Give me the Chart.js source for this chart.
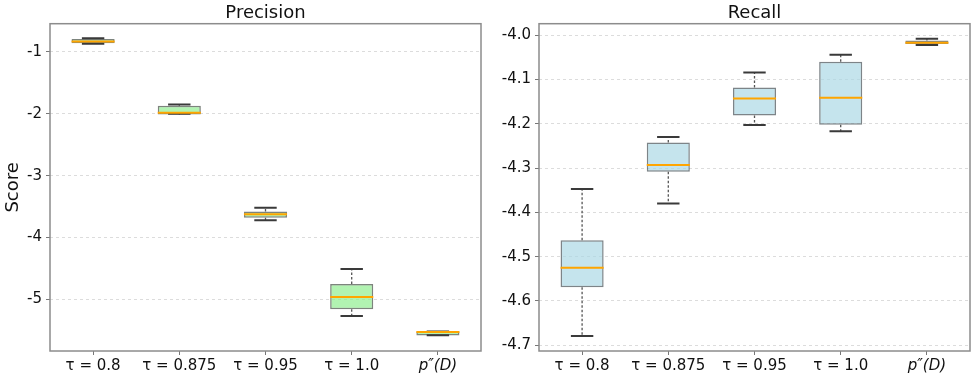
<!DOCTYPE html>
<html>
<head>
<meta charset="utf-8">
<script src="https://cdn.jsdelivr.net/npm/chart.js@4.4.1/dist/chart.umd.min.js"></script>
<style>
  html, body { margin: 0; padding: 0; background: #fff; }
  #wrap { position: relative; width: 976px; height: 383px; }
  #precisionChart { position: absolute; left: 0; top: 0; }
  #recallChart { position: absolute; left: 490px; top: 0; }
</style>
</head>
<body>
<div id="wrap">
  <canvas id="precisionChart" width="490" height="383"></canvas>
  <canvas id="recallChart" width="486" height="383"></canvas>
</div>
<script>
// Categories (x axis)
const categories = ['τ = 0.8', 'τ = 0.875', 'τ = 0.95', 'τ = 1.0', 'p″(D)'];

// Precision box stats
const precWhiskerHigh = [-0.78, -1.85, -3.52, -4.51, -5.52];
const precQ3 = [-0.79, -1.87, -3.58, -4.75, -5.52];
const precMedian = [-0.83, -1.985, -3.625, -4.96, -5.525];
const precQ1 = [-0.86, -2.01, -3.68, -5.16, -5.585];
const precWhiskerLow = [-0.87, -2.0, -3.72, -5.27, -5.58];
const precTicks = [-1, -2, -3, -4, -5];

// Recall box stats
const recWhiskerHigh = [-4.347, -4.230, -4.084, -4.044, -4.008];
const recQ3 = [-4.463, -4.242, -4.118, -4.060, -4.012];
const recMedian = [-4.525, -4.293, -4.143, -4.141, -4.017];
const recQ1 = [-4.569, -4.308, -4.181, -4.202, -4.020];
const recWhiskerLow = [-4.679, -4.380, -4.203, -4.217, -4.022];
const recTicks = [-4.0, -4.1, -4.2, -4.3, -4.4, -4.5, -4.6, -4.7];

const FONT = "'DejaVu Sans', sans-serif";
const TEXT = '#111111';

// whiskers, caps and median lines, drawn through the chart scales
function boxExtras(stats) {
    return {
        id: 'boxExtras',
        afterDatasetsDraw(chart) {
            const { ctx, scales: { x, y } } = chart;
            const step = x.getPixelForValue(1) - x.getPixelForValue(0);
            const capHalf = step * 0.13;
            const boxHalf = step * 0.25;
            ctx.save();
            stats.median.forEach((m, i) => {
                const cx = x.getPixelForValue(i);
                const yHi = y.getPixelForValue(stats.whiskerHigh[i]);
                const yLo = y.getPixelForValue(stats.whiskerLow[i]);
                const yQ3 = y.getPixelForValue(stats.q3[i]);
                const yQ1 = y.getPixelForValue(stats.q1[i]);

                // dashed whiskers
                ctx.strokeStyle = '#555555';
                ctx.lineWidth = 1.3;
                ctx.setLineDash([2.5, 2]);
                ctx.beginPath();
                ctx.moveTo(cx, yQ3); ctx.lineTo(cx, yHi);
                ctx.moveTo(cx, yQ1); ctx.lineTo(cx, yLo);
                ctx.stroke();

                // caps
                ctx.setLineDash([]);
                ctx.strokeStyle = '#3a3a3a';
                ctx.lineWidth = 2;
                ctx.beginPath();
                ctx.moveTo(cx - capHalf, yHi); ctx.lineTo(cx + capHalf, yHi);
                ctx.moveTo(cx - capHalf, yLo); ctx.lineTo(cx + capHalf, yLo);
                ctx.stroke();

                // median
                const yM = y.getPixelForValue(m);
                ctx.strokeStyle = '#FFA500';
                ctx.lineWidth = 2;
                ctx.beginPath();
                ctx.moveTo(cx - boxHalf, yM); ctx.lineTo(cx + boxHalf, yM);
                ctx.stroke();
            });
            ctx.restore();
        }
    };
}

// full frame around the plot area (matplotlib spines)
const frame = {
    id: 'frame',
    afterDraw(chart) {
        const { ctx, chartArea: a } = chart;
        ctx.save();
        ctx.strokeStyle = '#8c8c8c';
        ctx.lineWidth = 1.5;
        ctx.strokeRect(a.left, a.top, a.right - a.left, a.bottom - a.top);
        ctx.restore();
    }
};

function makeBoxChart(canvasId, cfg) {
    const s = cfg.stats;
    return new Chart(document.getElementById(canvasId), {
        type: 'bar',
        data: {
            labels: categories,
            datasets: [{
                data: s.q1.map((v, i) => [v, s.q3[i]]),
                backgroundColor: cfg.fill,
                borderColor: cfg.edge,
                borderWidth: 1.5,
                borderSkipped: false,
                barPercentage: 0.5,
                categoryPercentage: 1.0
            }]
        },
        options: {
            responsive: false,
            animation: false,
            devicePixelRatio: 1,
            layout: { padding: { left: 0, right: cfg.rightPad, top: 0, bottom: 0 } },
            plugins: {
                legend: { display: false },
                tooltip: { enabled: false },
                title: {
                    display: true,
                    text: cfg.title,
                    fullSize: false,
                    color: TEXT,
                    font: { family: FONT, size: 18, weight: 'normal', lineHeight: 1.15 },
                    padding: { top: 3, bottom: 0 }
                }
            },
            scales: {
                x: {
                    grid: { display: true, offset: false, drawOnChartArea: false, tickLength: 4, tickColor: '#777', tickWidth: 1 },
                    border: { display: false },
                    ticks: {
                        color: TEXT,
                        padding: 2,
                        maxRotation: 0,
                        font: (c) => ({ family: FONT, size: 15, style: c.index === 4 ? 'italic' : 'normal' })
                    },
                    afterFit: (sc) => { sc.height = 32; }
                },
                y: {
                    min: cfg.yMin,
                    max: cfg.yMax,
                    afterBuildTicks: (sc) => { sc.ticks = cfg.ticks.map(v => ({ value: v })); },
                    afterFit: (sc) => { sc.width = cfg.yWidth; },
                    grid: { color: '#d4d4d4', lineWidth: 0.8, tickLength: 4, tickColor: '#777', tickWidth: 1 },
                    border: { display: false, dash: [3, 3] },
                    ticks: {
                        color: TEXT,
                        padding: 4,
                        font: { family: FONT, size: 15 },
                        callback: cfg.fmt
                    },
                    title: {
                        display: cfg.yTitle,
                        text: 'Score',
                        color: TEXT,
                        font: { family: FONT, size: 18 },
                        padding: { top: 3, bottom: 0 }
                    }
                }
            }
        },
        plugins: [boxExtras(s), frame]
    });
}

makeBoxChart('precisionChart', {
    title: 'Precision',
    stats: { whiskerHigh: precWhiskerHigh, q3: precQ3, median: precMedian, q1: precQ1, whiskerLow: precWhiskerLow },
    fill: 'rgba(144, 238, 144, 0.7)',
    edge: 'rgba(70, 80, 70, 0.7)',
    yMin: -5.834,
    yMax: -0.544,
    ticks: precTicks,
    fmt: (v) => String(v),
    yTitle: true,
    yWidth: 50,
    rightPad: 9
});

makeBoxChart('recallChart', {
    title: 'Recall',
    stats: { whiskerHigh: recWhiskerHigh, q3: recQ3, median: recMedian, q1: recQ1, whiskerLow: recWhiskerLow },
    fill: 'rgba(173, 216, 230, 0.7)',
    edge: 'rgba(70, 80, 85, 0.7)',
    yMin: -4.713,
    yMax: -3.974,
    ticks: recTicks,
    fmt: (v) => v.toFixed(1),
    yTitle: false,
    yWidth: 49,
    rightPad: 6
});
</script>
</body>
</html>
